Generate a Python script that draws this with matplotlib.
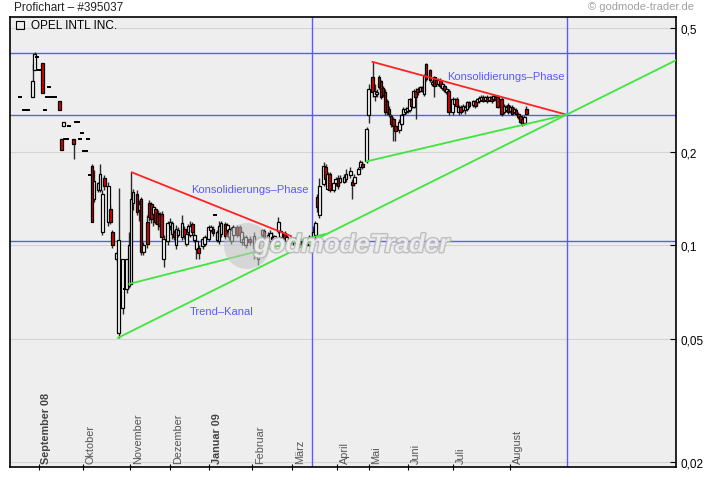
import numpy as np
import matplotlib
matplotlib.use('Agg')
import matplotlib.pyplot as plt
import matplotlib.patheffects as pe
from matplotlib.patches import Rectangle, Ellipse
from matplotlib.ticker import NullLocator, NullFormatter
from matplotlib.transforms import offset_copy

plt.rcParams['font.family'] = ['Liberation Sans', 'DejaVu Sans']

# ---- daily candles: trading-day index, open, high, low, close ----
day = [5, 7, 8, 9, 11, 12, 13, 14, 16, 17,
       18, 19, 20, 21, 22, 24, 25, 26, 27, 28,
       29, 31, 32, 33, 34, 35, 36, 37, 38, 39,
       # Oct/Nov 08 sell-off
       40, 41, 43, 44, 45, 46, 48, 49, 50, 52,
       53, 55, 56, 57, 58, 59,
       # first consolidation
       60, 62, 63, 64, 65, 67, 68, 69, 70, 71,
       72, 73, 74, 75, 77, 78, 79, 80, 81, 82,
       84, 85, 86, 87, 88, 89, 90, 91, 92, 94,
       95, 97, 98, 99, 100, 101, 102, 103, 105, 106,
       107, 108, 109, 111, 112, 113, 114, 115, 117, 119,
       121, 123, 124, 126, 127, 128, 129, 131, 132, 134,
       135, 137, 138, 139, 140, 141, 142, 144, 145, 146,
       148, 149, 150, 151,
       # March/April rally
       153, 154, 155, 156, 158, 159, 160, 161, 163, 164,
       166, 167, 168, 170, 171, 172, 174,
       # second consolidation
       175, 177, 178, 179, 180, 181, 182, 183, 184, 185,
       186, 187, 188, 190, 191, 192, 193, 194, 195, 196,
       197, 198, 199, 200, 201, 202, 203, 205, 206, 207,
       208, 209, 210, 211, 212, 213, 214, 216, 217, 218,
       219, 220, 221, 222, 223, 224, 226, 227, 228, 229,
       230, 231, 232, 233, 234, 235, 236, 237, 238, 240,
       241, 242, 243, 244, 245, 246, 247, 248, 249, 250,
       251, 252]

opn = [.300, .272, .272, .272, .300, .365, .403, .365, .387, .272,
       .300, .322, .300, .300, .300, .290, .220, .242, .220, .220,
       .242, .220, .250, .250, .220, .230, .201, .201, .220, .168,
       .180, .141, .150, .150, .110, .164, .119, .131, .110, .090,
       .052, .0625, .072, .072, .074, .075,
       .137, .146, .130, .141, .095, .119, .137, .136, .126, .131,
       .127, .126, .126, .090, .103, .115, .1085, .110, .100, .108,
       .106, .113, .1008, .110, .108, .117, .104, .097, .098, .099,
       .101, .105, .112, .113, .125, .104, .103, .1085, .117, .112,
       .106, .103, .108, .114, .114, .102, .102, .100, .105, .098,
       .090, .108, .111, .104, .103, .106, .104, .111, .106, .109,
       .103, .105, .102, .104, .101, .101, .102, .101, .101, .100,
       .103, .108, .143, .125,
       .157, .178, .152, .169, .150, .158, .165, .160, .160, .163,
       .168, .160, .158, .170, .178, .183, .186,
       .263, .347, .302, .306, .347, .337, .320, .312, .290, .275,
       .261, .255, .242, .235, .245, .264, .268, .270, .272, .295,
       .279, .314, .318, .314, .322, .306, .383, .365, .330, .347,
       .340, .330, .340, .320, .325, .310, .314, .268, .285, .295,
       .268, .278, .272, .272, .274, .288, .282, .290, .288, .290,
       .293, .300, .293, .300, .293, .300, .295, .300, .300, .295,
       .268, .272, .282, .270, .278, .268, .272, .265, .260, .255,
       .248, .274]

high = [.300, .272, .272, .272, .383, .418, .403, .365, .387, .272,
        .300, .322, .300, .300, .300, .290, .220, .250, .220, .220,
        .242, .220, .250, .250, .220, .230, .201, .201, .220, .168,
        .182, .175, .160, .182, .150, .168, .160, .135, .112, .096,
        .153, .090, .072, .090, .110, .172,
        .152, .150, .140, .143, .102, .125, .140, .138, .135, .133,
        .130, .128, .129, .108, .120, .122, .120, .112, .116, .114,
        .125, .115, .110, .117, .120, .119, .110, .104, .100, .106,
        .108, .116, .116, .115, .125, .112, .120, .120, .119, .118,
        .115, .114, .116, .116, .116, .111, .107, .108, .107, .110,
        .105, .113, .113, .110, .112, .110, .108, .123, .113, .111,
        .108, .107, .106, .106, .105, .106, .105, .106, .105, .108,
        .115, .120, .146, .165,
        .185, .182, .172, .172, .160, .166, .168, .168, .170, .176,
        .178, .163, .170, .178, .188, .186, .240,
        .330, .389, .330, .318, .352, .340, .325, .318, .295, .280,
        .265, .258, .246, .255, .265, .278, .278, .280, .298, .300,
        .318, .320, .322, .326, .326, .355, .386, .370, .340, .350,
        .345, .345, .345, .335, .330, .322, .318, .300, .298, .300,
        .282, .282, .284, .282, .292, .292, .294, .294, .298, .302,
        .304, .304, .303, .304, .303, .304, .306, .304, .304, .300,
        .284, .282, .286, .282, .282, .278, .276, .268, .262, .258,
        .262, .280]

low = [.300, .272, .272, .272, .300, .365, .403, .365, .309, .272,
       .300, .322, .300, .300, .300, .272, .203, .242, .220, .220,
       .242, .190, .250, .250, .220, .230, .201, .201, .220, .168,
       .119, .138, .148, .148, .108, .150, .115, .117, .098, .088,
       .0503, .060, .072, .070, .073, .075,
       .130, .125, .120, .093, .093, .098, .120, .118, .115, .117,
       .112, .113, .104, .085, .100, .112, .105, .104, .097, .106,
       .104, .105, .099, .108, .106, .108, .102, .090, .090, .097,
       .099, .103, .110, .107, .125, .102, .101, .106, .105, .110,
       .104, .101, .106, .106, .106, .100, .100, .098, .100, .090,
       .086, .106, .104, .102, .101, .104, .102, .109, .104, .103,
       .101, .101, .100, .101, .099, .100, .100, .100, .099, .099,
       .101, .106, .128, .122,
       .155, .160, .150, .148, .148, .155, .152, .158, .158, .160,
       .165, .141, .155, .168, .175, .176, .184,
       .248, .300, .290, .300, .318, .295, .300, .262, .262, .258,
       .240, .216, .217, .230, .242, .260, .264, .266, .268, .276,
       .276, .255, .305, .310, .310, .302, .338, .335, .325, .300,
       .325, .326, .320, .316, .310, .306, .262, .262, .280, .276,
       .262, .264, .268, .264, .270, .276, .278, .276, .284, .286,
       .290, .288, .290, .286, .290, .286, .292, .290, .276, .260,
       .265, .268, .264, .266, .262, .265, .262, .255, .248, .242,
       .244, .262]

close = [.300, .272, .272, .272, .337, .412, .403, .365, .309, .272,
         .300, .322, .300, .300, .300, .272, .203, .250, .220, .220,
         .242, .211, .250, .250, .220, .230, .201, .201, .220, .168,
         .119, .161, .158, .169, .146, .155, .155, .119, .100, .094,
         .104, .090, .072, .090, .100, .141,
         .148, .128, .136, .095, .100, .101, .123, .121, .133, .119,
         .117, .115, .106, .105, .118, .119, .118, .106, .113, .112,
         .118, .107, .1085, .115, .115, .110, .108, .103, .094, .105,
         .106, .114, .114, .109, .125, .110, .115, .118, .107, .116,
         .113, .112, .114, .108, .108, .110, .105, .106, .102, .107,
         .103, .112, .106, .108, .109, .105, .107, .119, .111, .105,
         .106, .103, .104, .102, .104, .104, .103, .104, .103, .106,
         .110, .118, .133, .155,
         .180, .163, .169, .150, .158, .163, .155, .165, .166, .170,
         .173, .156, .166, .176, .185, .178, .236,
         .318, .312, .314, .312, .322, .300, .305, .268, .268, .264,
         .246, .242, .233, .250, .262, .274, .274, .276, .295, .280,
         .314, .300, .310, .322, .314, .350, .342, .340, .336, .325,
         .330, .340, .325, .330, .315, .318, .268, .295, .295, .280,
         .278, .268, .280, .278, .288, .280, .290, .280, .295, .298,
         .300, .292, .300, .290, .300, .290, .302, .294, .279, .264,
         .280, .278, .268, .278, .265, .275, .265, .258, .250, .246,
         .258, .264]

assert len(day) == len(opn) == len(high) == len(low) == len(close)

# month ticks (trading-day index)
month_pos = [14.0, 35.8, 58.7, 78.2, 97.2, 118.2, 137.7, 159.7, 175.0, 194.3, 216.2, 244.0]
month_lbl = ['September 08', 'Oktober', 'November', 'Dezember', 'Januar 09', 'Februar',
             'März', 'April', 'Mai', 'Juni', 'Juli', 'August']
bold_lbl = ['September 08', 'Januar 09']

y_ticks = [0.02, 0.05, 0.1, 0.2, 0.5]
y_lbls = ['0,02', '0,05', '0,1', '0,2', '0,5']

# blue marker lines
h_levels = [0.415, 0.262, 0.103]
v_days = [147.3, 271.7]

# trend lines, (day, price) endpoints
red_x = [[59.5, 137.0], [176.9, 271.6]]
red_y = [[0.1715, 0.107], [0.389, 0.263]]
green_x = [[58.2, 153.7], [174.0, 271.6]]
green_y = [[0.075, 0.1085], [0.186, 0.263]]
chan_x = [52.7, 271.6]          # long trend channel, extended to the right edge
chan_y = [0.0503, 0.263]

notes = ['Konsolidierungs–Phase', 'Konsolidierungs–Phase', 'Trend–Kanal']
note_x = [117.0, 242.0, 103.4]
note_y = [0.1515, 0.350, 0.0614]

W, H = 720, 481
XMAX = 325
fig = plt.figure(figsize=(7.2, 4.81), dpi=100)
ax = fig.add_axes([10 / W, 1 - 468 / H, 666 / W, 450 / H])
ax.set_facecolor('#eeeeee')
ax.set_yscale('log')
ax.set_xlim(0, XMAX)
ax.set_ylim(0.0193, 0.5425)

# grid + axis
ax.set_yticks(y_ticks)
ax.set_yticklabels(y_lbls)
ax.yaxis.set_minor_locator(NullLocator())
ax.yaxis.set_minor_formatter(NullFormatter())
ax.yaxis.tick_right()
ax.tick_params(axis='y', direction='in', length=4, width=0.8, pad=3, labelsize=8.5, colors='black')
ax.grid(axis='y', color='#d4d4d4', lw=0.8, zorder=0)
ax.set_axisbelow(True)

ax.set_xticks(month_pos)
ax.set_xticklabels([])
ax.tick_params(axis='x', direction='inout', length=5, width=0.8)
for s in ax.spines.values():
    s.set_linewidth(1.2)
    s.set_color('black')

lbl_tr = offset_copy(ax.get_xaxis_transform(), fig=fig, x=2.5, y=4, units='dots')
for pos, lbl in zip(month_pos, month_lbl):
    b = lbl in bold_lbl
    ax.text(pos, 0, lbl, transform=lbl_tr, rotation=90, ha='left', va='bottom',
            fontsize=7.8, color='#444444' if b else '#555555',
            fontweight='bold' if b else 'normal')

# blue lines
for v in h_levels:
    ax.axhline(v, color='#5a5aff', lw=1.0, zorder=1.5)
for d in v_days:
    ax.axvline(d, color='#5a5aff', lw=1.0, zorder=1.5)

# candles
for d, o, hi, lo, c in zip(day, opn, high, low, close):
    if o == c:
        ax.hlines(o, d - 1.0, d + 1.0, color='black', lw=1.4, zorder=3)
        continue
    ax.vlines(d, lo, hi, color='#2a2a2a', lw=1.0, zorder=2)
    fc = 'white' if c > o else '#e00000'
    ax.add_patch(Rectangle((d - 0.65, min(o, c)), 1.3, abs(c - o), fc=fc, ec='black',
                           lw=0.9, zorder=3))

# trend lines
for xs, ys in zip(red_x, red_y):
    ax.plot(xs, ys, color='#ff2222', lw=1.3, zorder=4)
for xs, ys in zip(green_x, green_y):
    ax.plot(xs, ys, color='#3de63d', lw=1.3, zorder=4)
slope = (np.log10(chan_y[1]) - np.log10(chan_y[0])) / (chan_x[1] - chan_x[0])
end_y = 10 ** (np.log10(chan_y[0]) + slope * (XMAX - chan_x[0]))
ax.plot([chan_x[0], XMAX], [chan_y[0], end_y], color='#3de63d', lw=1.3, zorder=4)

for t, x, y in zip(notes, note_x, note_y):
    ax.text(x, y, t, color='#5a5aff', fontsize=8, ha='center', va='center', zorder=5)

# watermark
fig.patches.append(Ellipse((247 / W, 1 - 247 / H), 46 / W, 46 / H, transform=fig.transFigure,
                           fc='#c4c4c4', ec='none', alpha=0.55, zorder=6))
fig.text(254 / W, 1 - 246 / H, 'godmodeTrader', fontsize=18.5, fontweight='bold', style='italic',
         color='#f4f4f4', alpha=0.8, va='center', ha='left', zorder=7,
         path_effects=[pe.withStroke(linewidth=2, foreground='#b4b4b4')])

# header
fig.text(14 / W, 1 - 8 / H, 'Profichart – #395037', fontsize=8.5, va='center', ha='left', color='#222222')
fig.text(641 / W, 1 - 7 / H, '© godmode-trader.de', fontsize=8, va='center', ha='center', color='#a0a0a0')
fig.patches.append(Rectangle((16 / W, 1 - 30 / H), 8 / W, 8 / H, transform=fig.transFigure,
                             fc='none', ec='black', lw=0.8, zorder=8))
fig.text(31 / W, 1 - 26 / H, 'OPEL INTL INC.', fontsize=8.5, va='center', ha='left', color='black', zorder=8)

fig.savefig('out.png', dpi=100)
